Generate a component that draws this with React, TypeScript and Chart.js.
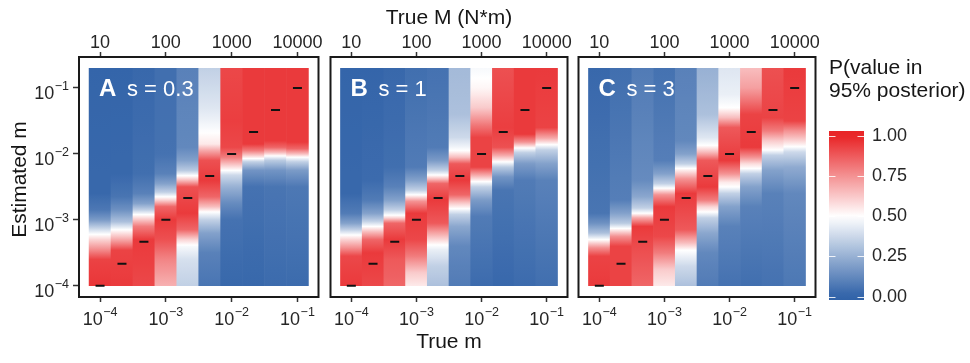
import React, { useEffect, useRef } from 'react';
import { Chart, registerables } from 'chart.js';

Chart.register(...registerables);

const FONT = '"Liberation Sans", Arial, Helvetica, sans-serif';
const TITLE_COLOR = '#161616';
const TICK_COLOR = '#262626';

// ---- data ----
// true m of each column (x) and where its dash sits (y)
const TRUE_M = [1e-4, 2.154e-4, 4.642e-4, 1e-3, 2.154e-3, 4.642e-3, 1e-2, 2.154e-2, 4.642e-2, 1e-1];
// tick values
const M_TICKS = [1e-4, 1e-3, 1e-2, 1e-1];
const M_TICK_EXPONENTS = ['\u22124', '\u22123', '\u22122', '\u22121'];
const BIG_M_TICKS = [10, 100, 1000, 10000];
const BIG_M_LABELS = ['10', '100', '1000', '10000'];
const LEGEND_TICKS = [0, 0.25, 0.5, 0.75, 1];
// extent of the estimated-m grid
const EST_BOTTOM = 1e-4;
const EST_TOP = 10 ** -0.7;
// panel captions
const PANEL_LETTERS = ['A', 'B', 'C'];
const PANEL_S = ['s = 0.3', 's = 1', 's = 3'];

// P(value in 95% posterior) along estimated m for each column: [log10(estimated m), P]
const PROFILE_A = [
  [[-4.0, 0.96], [-3.6, 0.93], [-3.45, 0.76], [-3.3, 0.6], [-3.22, 0.5], [-3.12, 0.35], [-3.0, 0.18], [-2.85, 0.07], [-2.6, 0.02], [-0.7, 0.01]],
  [[-4.0, 0.95], [-3.46, 0.93], [-3.3, 0.7], [-3.15, 0.5], [-3.03, 0.3], [-2.85, 0.15], [-2.65, 0.06], [-2.3, 0.02], [-0.7, 0.01]],
  [[-4.0, 0.92], [-3.3, 0.95], [-3.1, 0.8], [-2.98, 0.6], [-2.92, 0.5], [-2.85, 0.35], [-2.75, 0.2], [-2.6, 0.1], [-2.3, 0.04], [-0.7, 0.02]],
  [[-4.0, 0.68], [-3.6, 0.78], [-3.3, 0.9], [-3.0, 0.95], [-2.8, 0.85], [-2.7, 0.6], [-2.65, 0.5], [-2.58, 0.35], [-2.45, 0.2], [-2.3, 0.1], [-2.0, 0.05], [-0.7, 0.04]],
  [[-4.0, 0.35], [-3.6, 0.4], [-3.4, 0.48], [-3.3, 0.6], [-3.15, 0.85], [-2.9, 0.95], [-2.5, 0.9], [-2.4, 0.65], [-2.33, 0.5], [-2.25, 0.33], [-2.1, 0.2], [-1.9, 0.12], [-0.7, 0.1]],
  [[-4.0, 0.06], [-3.5, 0.1], [-3.2, 0.2], [-3.0, 0.35], [-2.88, 0.5], [-2.8, 0.65], [-2.65, 0.85], [-2.4, 0.95], [-2.1, 0.9], [-1.95, 0.7], [-1.85, 0.55], [-1.6, 0.48], [-1.3, 0.42], [-0.7, 0.35]],
  [[-4.0, 0.02], [-3.0, 0.05], [-2.75, 0.13], [-2.5, 0.25], [-2.32, 0.38], [-2.25, 0.5], [-2.15, 0.65], [-2.05, 0.8], [-1.9, 0.92], [-1.5, 0.94], [-0.7, 0.92]],
  [[-4.0, 0.02], [-2.5, 0.05], [-2.25, 0.16], [-2.12, 0.35], [-2.07, 0.5], [-2.03, 0.6], [-1.95, 0.8], [-1.85, 0.95], [-0.7, 0.95]],
  [[-4.0, 0.03], [-2.5, 0.06], [-2.25, 0.16], [-2.1, 0.33], [-2.03, 0.5], [-1.98, 0.65], [-1.9, 0.85], [-1.8, 0.95], [-0.7, 0.95]],
  [[-4.0, 0.03], [-2.5, 0.07], [-2.25, 0.18], [-2.12, 0.35], [-2.05, 0.5], [-2.0, 0.65], [-1.92, 0.85], [-1.82, 0.95], [-0.7, 0.95]],
];

const PROFILE_B = [
  [[-4.0, 0.95], [-3.55, 0.92], [-3.42, 0.75], [-3.3, 0.6], [-3.23, 0.5], [-3.15, 0.35], [-3.05, 0.2], [-2.9, 0.08], [-2.6, 0.02], [-0.7, 0.01]],
  [[-4.0, 0.92], [-3.5, 0.95], [-3.3, 0.85], [-3.18, 0.65], [-3.1, 0.5], [-3.02, 0.35], [-2.9, 0.2], [-2.7, 0.08], [-2.4, 0.03], [-0.7, 0.01]],
  [[-4.0, 0.85], [-3.6, 0.88], [-3.3, 0.95], [-3.05, 0.85], [-2.97, 0.6], [-2.93, 0.5], [-2.85, 0.35], [-2.7, 0.2], [-2.5, 0.1], [-2.2, 0.04], [-0.7, 0.02]],
  [[-4.0, 0.55], [-3.8, 0.62], [-3.55, 0.8], [-3.3, 0.92], [-2.9, 0.95], [-2.72, 0.75], [-2.62, 0.5], [-2.55, 0.35], [-2.4, 0.2], [-2.2, 0.08], [-0.7, 0.04]],
  [[-4.0, 0.3], [-3.7, 0.35], [-3.45, 0.45], [-3.38, 0.5], [-3.25, 0.65], [-3.05, 0.88], [-2.7, 0.95], [-2.45, 0.85], [-2.38, 0.65], [-2.32, 0.5], [-2.25, 0.35], [-2.1, 0.18], [-1.9, 0.08], [-0.7, 0.05]],
  [[-4.0, 0.08], [-3.4, 0.12], [-3.1, 0.22], [-2.92, 0.35], [-2.83, 0.5], [-2.75, 0.62], [-2.62, 0.85], [-2.4, 0.95], [-2.15, 0.88], [-2.05, 0.65], [-1.95, 0.5], [-1.75, 0.38], [-1.4, 0.3], [-0.7, 0.28]],
  [[-4.0, 0.03], [-2.95, 0.08], [-2.7, 0.18], [-2.5, 0.35], [-2.42, 0.5], [-2.32, 0.7], [-2.2, 0.93], [-1.75, 0.93], [-1.55, 0.8], [-1.3, 0.62], [-1.0, 0.52], [-0.7, 0.48]],
  [[-4.0, 0.02], [-2.55, 0.06], [-2.35, 0.16], [-2.2, 0.33], [-2.12, 0.5], [-2.02, 0.7], [-1.9, 0.9], [-1.6, 0.94], [-0.7, 0.9]],
  [[-4.0, 0.03], [-2.4, 0.08], [-2.15, 0.18], [-1.98, 0.35], [-1.91, 0.5], [-1.82, 0.75], [-1.7, 0.95], [-0.7, 0.95]],
  [[-4.0, 0.04], [-2.4, 0.1], [-2.15, 0.2], [-1.94, 0.35], [-1.86, 0.5], [-1.76, 0.7], [-1.6, 0.93], [-0.7, 0.95]],
];

const PROFILE_C = [
  [[-4.0, 0.95], [-3.55, 0.93], [-3.42, 0.75], [-3.3, 0.5], [-3.2, 0.3], [-3.05, 0.15], [-2.9, 0.06], [-0.7, 0.02]],
  [[-4.0, 0.93], [-3.4, 0.93], [-3.25, 0.75], [-3.13, 0.5], [-3.05, 0.33], [-2.9, 0.2], [-2.7, 0.09], [-0.7, 0.04]],
  [[-4.0, 0.85], [-3.5, 0.9], [-3.1, 0.95], [-2.97, 0.7], [-2.9, 0.5], [-2.82, 0.35], [-2.65, 0.22], [-2.4, 0.13], [-0.7, 0.08]],
  [[-4.0, 0.55], [-3.75, 0.62], [-3.5, 0.8], [-3.25, 0.92], [-2.8, 0.95], [-2.62, 0.75], [-2.52, 0.5], [-2.45, 0.35], [-2.3, 0.2], [-2.1, 0.09], [-0.7, 0.05]],
  [[-4.0, 0.3], [-3.7, 0.38], [-3.46, 0.5], [-3.35, 0.65], [-3.15, 0.88], [-2.6, 0.95], [-2.38, 0.75], [-2.22, 0.5], [-2.15, 0.35], [-2.0, 0.2], [-1.8, 0.12], [-0.7, 0.1]],
  [[-4.0, 0.08], [-3.5, 0.12], [-3.2, 0.22], [-2.97, 0.35], [-2.88, 0.5], [-2.8, 0.6], [-2.7, 0.8], [-2.5, 0.95], [-2.1, 0.88], [-1.97, 0.65], [-1.87, 0.5], [-1.75, 0.42], [-1.4, 0.3], [-0.7, 0.25]],
  [[-4.0, 0.05], [-3.1, 0.1], [-2.8, 0.2], [-2.6, 0.35], [-2.5, 0.5], [-2.43, 0.55], [-2.3, 0.75], [-2.1, 0.95], [-1.6, 0.88], [-1.45, 0.65], [-1.3, 0.5], [-1.1, 0.45], [-0.7, 0.42]],
  [[-4.0, 0.04], [-2.8, 0.1], [-2.5, 0.2], [-2.3, 0.35], [-2.22, 0.5], [-2.15, 0.58], [-2.05, 0.75], [-1.9, 0.95], [-1.4, 0.93], [-1.25, 0.85], [-1.0, 0.72], [-0.7, 0.65]],
  [[-4.0, 0.05], [-2.6, 0.1], [-2.25, 0.2], [-2.02, 0.35], [-1.94, 0.5], [-1.8, 0.62], [-1.65, 0.8], [-1.45, 0.93], [-0.7, 0.9]],
  [[-4.0, 0.07], [-2.6, 0.12], [-2.2, 0.23], [-1.97, 0.38], [-1.89, 0.5], [-1.8, 0.6], [-1.65, 0.75], [-1.5, 0.93], [-0.7, 0.95]],
];

const PROFILES = [PROFILE_A, PROFILE_B, PROFILE_C];

// ---- colour scale (low blue, white mid at 0.5, high red) ----
const LOW = [48, 98, 168];
const MID = [255, 255, 255];
const HIGH = [232, 36, 38];

function pColor(p: number): string {
  const v = Math.max(0, Math.min(1, p));
  let a: number[], b: number[], t: number;
  if (v < 0.5) { a = LOW; b = MID; t = v / 0.5; } else { a = MID; b = HIGH; t = (v - 0.5) / 0.5; }
  const c = a.map((x, i) => Math.round(x + (b[i] - x) * t));
  return `rgb(${c[0]},${c[1]},${c[2]})`;
}

function columnGradient(chart: any, profile: number[][]) {
  const y = chart.scales && chart.scales.y;
  if (!y) return pColor(0);
  const y0 = y.getPixelForValue(EST_BOTTOM);
  const y1 = y.getPixelForValue(EST_TOP);
  if (!isFinite(y0) || !isFinite(y1) || y0 === y1) return pColor(0);
  const span = y1 - y0;
  const g = chart.ctx.createLinearGradient(0, y0, 0, y1);
  const n = 6;
  for (let k = 0; k < profile.length - 1; k++) {
    const [l0, p0] = profile[k];
    const [l1, p1] = profile[k + 1];
    for (let j = 0; j <= n; j++) {
      const t = j / n;
      const pix = y.getPixelForValue(10 ** (l0 + (l1 - l0) * t));
      const off = Math.max(0, Math.min(1, (pix - y0) / span));
      if (isFinite(off)) g.addColorStop(off, pColor(p0 + (p1 - p0) * t));
    }
  }
  return g;
}

function drawPower(ctx: CanvasRenderingContext2D, x: number, baseline: number, exp: string, align: 'center' | 'right') {
  ctx.font = `18px ${FONT}`;
  const w1 = ctx.measureText('10').width;
  ctx.font = `12.5px ${FONT}`;
  const w2 = ctx.measureText(exp).width;
  const total = w1 + 0.5 + w2;
  const x0 = align === 'center' ? x - total / 2 : x - total;
  ctx.textAlign = 'left';
  ctx.textBaseline = 'alphabetic';
  ctx.font = `18px ${FONT}`;
  ctx.fillText('10', x0, baseline);
  ctx.font = `12.5px ${FONT}`;
  ctx.fillText(exp, x0 + w1 + 0.5, baseline - 9);
}

const tickGrid = { display: true, drawOnChartArea: false, drawTicks: true, tickLength: 5, tickColor: '#333333', tickWidth: 1.5, offset: false };

interface PanelProps { index: number; left: number; width: number; padLeft: number; padRight: number; showY: boolean; showTitles: boolean; }

function Panel({ index, left, width, padLeft, padRight, showY, showTitles }: PanelProps) {
  const ref = useRef<HTMLCanvasElement>(null);
  useEffect(() => {
    const profile = PROFILES[index];
    const decor = {
      id: 'panelDecor',
      afterDatasetsDraw(chart: any) {
        const { ctx, chartArea: a } = chart;
        ctx.save();
        ctx.fillStyle = '#ffffff';
        ctx.textAlign = 'left';
        ctx.textBaseline = 'alphabetic';
        ctx.font = `bold 24px ${FONT}`;
        ctx.fillText(PANEL_LETTERS[index], a.left + 20, a.top + 39);
        ctx.font = `22px ${FONT}`;
        ctx.fillText(PANEL_S[index], a.left + 48, a.top + 39);
        ctx.restore();
      },
      afterDraw(chart: any) {
        const { ctx, chartArea: a, scales } = chart;
        ctx.save();
        ctx.strokeStyle = '#1a1a1a';
        ctx.lineWidth = 2;
        ctx.strokeRect(a.left, a.top, a.right - a.left, a.bottom - a.top);
        ctx.fillStyle = TICK_COLOR;
        M_TICKS.forEach((v, i) => {
          drawPower(ctx, scales.x.getPixelForValue(v), a.bottom + 28, M_TICK_EXPONENTS[i], 'center');
        });
        ctx.font = `18px ${FONT}`;
        ctx.textAlign = 'center';
        ctx.textBaseline = 'alphabetic';
        BIG_M_TICKS.forEach((v, i) => {
          ctx.fillText(BIG_M_LABELS[i], scales.x2.getPixelForValue(v), a.top - 9);
        });
        if (showY) {
          M_TICKS.forEach((v, i) => {
            drawPower(ctx, a.left - 10, scales.y.getPixelForValue(v) + 11, M_TICK_EXPONENTS[i], 'right');
          });
          ctx.save();
          ctx.fillStyle = TITLE_COLOR;
          ctx.font = `21px ${FONT}`;
          ctx.textAlign = 'center';
          ctx.textBaseline = 'alphabetic';
          ctx.translate(26, 179.5);
          ctx.rotate(-Math.PI / 2);
          ctx.fillText('Estimated m', 0, 0);
          ctx.restore();
        }
        if (showTitles) {
          ctx.fillStyle = TITLE_COLOR;
          ctx.font = `21px ${FONT}`;
          ctx.textAlign = 'center';
          ctx.textBaseline = 'alphabetic';
          const cx = (a.left + a.right) / 2;
          ctx.fillText('True M (N*m)', cx, 23.5);
          ctx.fillText('True m', cx, 348);
        }
        ctx.restore();
      },
    };

    const chart = new Chart(ref.current as HTMLCanvasElement, {
      type: 'bar',
      data: {
        datasets: [
          {
            type: 'bar',
            data: TRUE_M.map((m) => ({ x: m, y: [EST_BOTTOM, EST_TOP] })) as any,
            backgroundColor: (c: any) => (c.type === 'data' ? columnGradient(c.chart, profile[c.dataIndex]) : pColor(0)),
            borderWidth: 0,
            barPercentage: 1,
            categoryPercentage: 1,
            xAxisID: 'x',
            yAxisID: 'y',
            order: 2,
          } as any,
          {
            type: 'scatter',
            data: TRUE_M.map((m) => ({ x: m, y: m })),
            pointStyle: 'line',
            pointRadius: 4.5,
            pointBorderWidth: 2,
            pointBorderColor: '#111111',
            pointBackgroundColor: '#111111',
            xAxisID: 'x',
            yAxisID: 'y',
            order: 1,
          } as any,
        ],
      },
      options: {
        animation: false,
        responsive: false,
        maintainAspectRatio: false,
        events: [],
        layout: { padding: { left: padLeft, right: padRight, top: 0, bottom: 0 } },
        plugins: { legend: { display: false }, tooltip: { enabled: false }, title: { display: false } },
        scales: {
          x: {
            type: 'logarithmic',
            position: 'bottom',
            offset: false,
            min: 10 ** -4.32,
            max: 10 ** -0.68,
            afterBuildTicks: (s: any) => { s.ticks = M_TICKS.map((v) => ({ value: v })); },
            afterFit: (s: any) => { s.height = 66; },
            ticks: { display: false },
            grid: tickGrid,
            border: { display: false },
          },
          x2: {
            type: 'logarithmic',
            position: 'top',
            offset: false,
            min: 10 ** 0.68,
            max: 10 ** 4.32,
            afterBuildTicks: (s: any) => { s.ticks = BIG_M_TICKS.map((v) => ({ value: v })); },
            afterFit: (s: any) => { s.height = 57; },
            ticks: { display: false },
            grid: tickGrid,
            border: { display: false },
          },
          y: {
            type: 'logarithmic',
            display: showY,
            beginAtZero: false,
            min: 10 ** -4.17,
            max: 10 ** -0.53,
            afterBuildTicks: (s: any) => { s.ticks = M_TICKS.map((v) => ({ value: v })); },
            afterFit: (s: any) => { s.width = showY ? 79 : 0; },
            ticks: { display: false },
            grid: { ...tickGrid, tickLength: 6 },
            border: { display: false },
          },
        } as any,
      },
      plugins: [decor],
    } as any);
    return () => chart.destroy();
  }, [index, padLeft, padRight, showY, showTitles]);
  return (
    <canvas
      ref={ref}
      width={width}
      height={363}
      style={{ position: 'absolute', left, top: 0, width, height: 363 }}
    />
  );
}

function ColorLegend() {
  const ref = useRef<HTMLCanvasElement>(null);
  useEffect(() => {
    const LEG_MIN = -0.021;
    const LEG_MAX = 1.031;
    const decor = {
      id: 'legendDecor',
      afterDatasetsDraw(chart: any) {
        const { ctx, chartArea: a, scales } = chart;
        ctx.save();
        ctx.strokeStyle = 'rgba(255,255,255,0.85)';
        ctx.lineWidth = 1;
        LEGEND_TICKS.forEach((v) => {
          const y = Math.round(scales.y.getPixelForValue(v)) + 0.5;
          ctx.beginPath();
          ctx.moveTo(a.left, y); ctx.lineTo(a.left + 6.5, y);
          ctx.moveTo(a.right - 6.5, y); ctx.lineTo(a.right, y);
          ctx.stroke();
        });
        ctx.fillStyle = TITLE_COLOR;
        ctx.font = `21px ${FONT}`;
        ctx.textAlign = 'left';
        ctx.textBaseline = 'alphabetic';
        ctx.fillText('P(value in', a.left, 74);
        ctx.fillText('95% posterior)', a.left, 97);
        ctx.restore();
      },
    };
    const chart = new Chart(ref.current as HTMLCanvasElement, {
      type: 'bar',
      data: {
        labels: [''],
        datasets: [
          {
            data: [[LEG_MIN, LEG_MAX]] as any,
            borderWidth: 0,
            barPercentage: 1,
            categoryPercentage: 1,
            backgroundColor: (c: any) => {
              const chartRef = c.chart;
              const y = chartRef.scales && chartRef.scales.y;
              if (!y || c.type !== 'data') return pColor(0.5);
              const y0 = y.getPixelForValue(LEG_MIN);
              const y1 = y.getPixelForValue(LEG_MAX);
              if (!isFinite(y0) || !isFinite(y1) || y0 === y1) return pColor(0.5);
              const g = chartRef.ctx.createLinearGradient(0, y0, 0, y1);
              const n = 24;
              for (let j = 0; j <= n; j++) {
                const v = LEG_MIN + ((LEG_MAX - LEG_MIN) * j) / n;
                g.addColorStop(j / n, pColor(v));
              }
              return g;
            },
          } as any,
        ],
      },
      options: {
        animation: false,
        responsive: false,
        maintainAspectRatio: false,
        events: [],
        layout: { padding: { left: 14, right: 0, top: 131, bottom: 63 } },
        plugins: { legend: { display: false }, tooltip: { enabled: false } },
        scales: {
          x: { display: false, offset: true },
          y: {
            position: 'right',
            beginAtZero: false,
            min: LEG_MIN,
            max: LEG_MAX,
            afterBuildTicks: (s: any) => { s.ticks = LEGEND_TICKS.map((v) => ({ value: v })); },
            afterFit: (s: any) => { s.width = 106; },
            ticks: {
              callback: (v: any) => Number(v).toFixed(2),
              font: { size: 18, family: FONT },
              color: TICK_COLOR,
              padding: 8,
            },
            grid: { display: false, drawTicks: false },
            border: { display: false },
          },
        } as any,
      },
      plugins: [decor],
    } as any);
    return () => chart.destroy();
  }, []);
  return (
    <canvas ref={ref} width={155} height={363} style={{ position: 'absolute', left: 815, top: 0, width: 155, height: 363 }} />
  );
}

export default function App() {
  return (
    <div style={{ position: 'absolute', left: 0, top: 0, width: 970, height: 363, background: '#ffffff', overflow: 'hidden' }}>
      <Panel index={0} left={0} width={325} padLeft={0} padRight={4} showY={true} showTitles={false} />
      <Panel index={1} left={324} width={250} padLeft={4} padRight={4} showY={false} showTitles={true} />
      <Panel index={2} left={572} width={250} padLeft={4} padRight={4} showY={false} showTitles={false} />
      <ColorLegend />
    </div>
  );
}
